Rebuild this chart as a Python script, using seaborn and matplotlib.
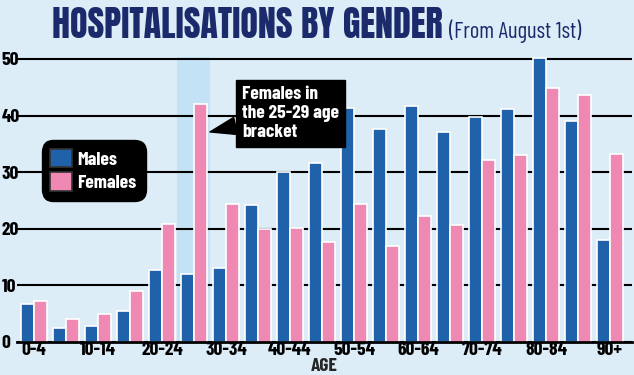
import matplotlib
matplotlib.use("Agg")
import matplotlib.pyplot as plt
import seaborn as sns
import pandas as pd

ages = ["0-4", "5-9", "10-14", "15-19", "20-24", "25-29", "30-34", "35-39",
        "40-44", "45-49", "50-54", "55-59", "60-64", "65-69", "70-74",
        "75-79", "80-84", "85-89", "90+"]
males = [6.7, 2.4, 2.8, 5.5, 12.7, 12.0, 13.0, 24.2, 30.0, 31.6, 41.4, 37.7,
         41.7, 37.1, 39.7, 41.2, 50.1, 39.0, 18.1]
females = [7.3, 4.1, 4.9, 9.0, 20.8, 42.0, 24.4, 19.9, 20.1, 17.6, 24.3, 16.9,
           22.3, 20.7, 32.2, 33.0, 44.9, 43.7, 33.2]
yticks = [0, 10, 20, 30, 40, 50]

BG = "#dcedf8"
BLUE = "#1f62aa"
PINK = "#ef88b3"
NAVY = "#1b2a6b"
BODY = ["Barlow Condensed", "DejaVu Sans"]
HEAD = ["Anton", "Barlow Condensed", "DejaVu Sans"]

sns.set_theme(style="white")
plt.rcParams["font.family"] = BODY

df = pd.DataFrame({
    "age": ages * 2,
    "value": males + females,
    "sex": ["Males"] * len(ages) + ["Females"] * len(ages),
})

fig = plt.figure(figsize=(6.34, 3.75), dpi=100, facecolor=BG)
ax = fig.add_axes([17 / 634, 0.088, 615 / 634, 0.770])
ax.set_facecolor(BG)

# highlight band for 25-29
ax.axvspan(4.47, 5.5, ymin=0, ymax=50.3 / 51, color="#c4e2f5", zorder=0.2, lw=0)

sns.barplot(data=df, x="age", y="value", hue="sex", order=ages,
            hue_order=["Males", "Females"], palette=[BLUE, PINK], saturation=1,
            width=0.8, edgecolor="white", linewidth=1.2, ax=ax, zorder=2)

ax.set_xlim(-0.53, 18.69)
ax.set_ylim(0, 51)
ax.set_yticks(yticks)
ax.set_yticklabels([str(v) for v in yticks], fontsize=14, fontweight="bold",
                   color="black", family=BODY)
ax.set_xticks(range(len(ages)))
ax.set_xticklabels([a if i % 2 == 0 else "" for i, a in enumerate(ages)],
                   fontsize=14, fontweight="bold", color="black", family=BODY)
ax.tick_params(axis="both", length=0)
ax.tick_params(axis="x", pad=0)
for lab in ax.get_yticklabels():
    lab.set_horizontalalignment("left")
ax.yaxis.set_tick_params(pad=11)

ax.set_axisbelow(True)
ax.yaxis.grid(True, color="black", lw=1.5)
ax.xaxis.grid(False)
for s in ["top", "right", "left"]:
    ax.spines[s].set_visible(False)
ax.spines["bottom"].set_color("black")
ax.spines["bottom"].set_linewidth(2)
ax.set_xlabel("AGE", fontsize=14, fontweight="bold", family=BODY, labelpad=-1)
ax.set_ylabel("")

# legend
handles, labels = ax.get_legend_handles_labels()
for h in handles:
    h.set_edgecolor("#333333")
leg = ax.legend(handles, labels, loc="upper left", bbox_to_anchor=(0.04, 0.70),
                borderaxespad=0, frameon=True, facecolor="black", edgecolor="black",
                framealpha=1, fancybox=True,
                prop=dict(family=BODY, weight="bold", size=14),
                labelcolor="white", handlelength=1.1, handleheight=1.1,
                handletextpad=0.3, borderpad=0.45, labelspacing=0.2)
leg.get_frame().set_boxstyle("round,pad=0.0,rounding_size=0.6")
leg.set_zorder(5)

# annotation callout
ax.annotate("Females in\nthe 25-29 age\nbracket", xy=(5.5, 37.1),
            xytext=(6.5, 45.2), textcoords="data", ha="left", va="top",
            fontsize=14, fontweight="bold", color="white", family=BODY,
            linespacing=1.15,
            bbox=dict(boxstyle="square,pad=0.3", fc="black", ec="black"),
            arrowprops=dict(arrowstyle="wedge,tail_width=0.9,shrink_factor=0.5",
                            fc="black", ec="black", relpos=(0.0, 0.3),
                            shrinkA=0, shrinkB=0),
            zorder=6)

# title, fitted to the reference width
renderer = fig.canvas.get_renderer()
base_y = 1 - 38 / 375
t1 = fig.text(52 / 634, base_y, "HOSPITALISATIONS BY GENDER", fontsize=24,
              color=NAVY, family=HEAD, va="baseline", ha="left")
w = t1.get_window_extent(renderer).width
t1.set_fontsize(24 * 390 / w)
bb = t1.get_window_extent(renderer)
t2 = fig.text((bb.x1 + 6) / fig.bbox.width, base_y, "(From August 1st)",
              fontsize=16, color=NAVY, family=BODY, va="baseline", ha="left")
w2 = t2.get_window_extent(renderer).width
t2.set_fontsize(16 * 133 / w2)

fig.savefig("out.png", dpi=100, facecolor=BG)
